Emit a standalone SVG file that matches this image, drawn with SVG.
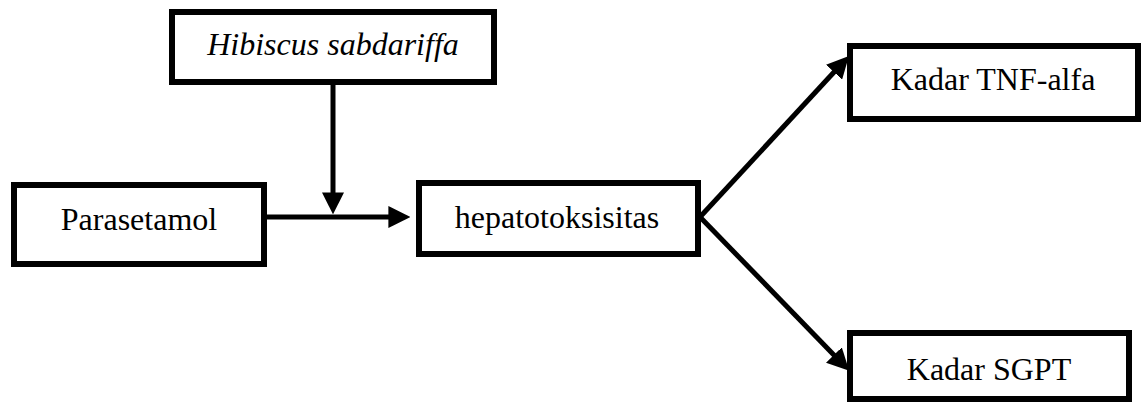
<svg xmlns="http://www.w3.org/2000/svg" width="1141" height="404" viewBox="0 0 1141 404">
<style>
.box{fill:#fff;stroke:#000;stroke-width:6}
.lbl{font-family:'Liberation Serif','Times New Roman','DejaVu Serif',serif;font-size:32px;fill:#000;text-anchor:middle}
.it{font-style:italic}
.con{stroke:#000;stroke-width:5;fill:none}
</style>
<defs>
<marker id="ah" markerUnits="userSpaceOnUse" markerWidth="22" markerHeight="22" refX="6" refY="10" orient="auto" viewBox="0 0 20 20">
<path d="M0,0 L20,10 L0,20 z" fill="#000"/>
</marker>
</defs>
<rect width="1141" height="404" fill="#fff"/>
<g id="connectors">
<line class="con" x1="267" y1="217" x2="395" y2="217" marker-end="url(#ah)"/>
<line class="con" x1="333" y1="85" x2="333" y2="199" marker-end="url(#ah)"/>
<line class="con" x1="700" y1="217" x2="838.5" y2="67.3" marker-end="url(#ah)"/>
<line class="con" x1="700" y1="217" x2="838.5" y2="359.7" marker-end="url(#ah)"/>
</g>
<g id="hibiscus">
<rect class="box" x="172" y="12" width="322" height="70"/>
<text class="lbl it" font-family="Liberation Serif, serif" x="333" y="55">Hibiscus sabdariffa</text>
</g>
<g id="parasetamol">
<rect class="box" x="14" y="185" width="250" height="79"/>
<text class="lbl" font-family="Liberation Serif, serif" x="139" y="230">Parasetamol</text>
</g>
<g id="hepatotoksisitas">
<rect class="box" x="419" y="183" width="279" height="71"/>
<text class="lbl" font-family="Liberation Serif, serif" x="557" y="228">hepatotoksisitas</text>
</g>
<g id="tnf">
<rect class="box" x="850" y="46" width="288" height="73"/>
<text class="lbl" font-family="Liberation Serif, serif" x="993" y="90">Kadar TNF-alfa</text>
</g>
<g id="sgpt">
<rect class="box" x="850" y="333" width="279" height="66"/>
<text class="lbl" font-family="Liberation Serif, serif" x="989" y="380">Kadar SGPT</text>
</g>
</svg>
